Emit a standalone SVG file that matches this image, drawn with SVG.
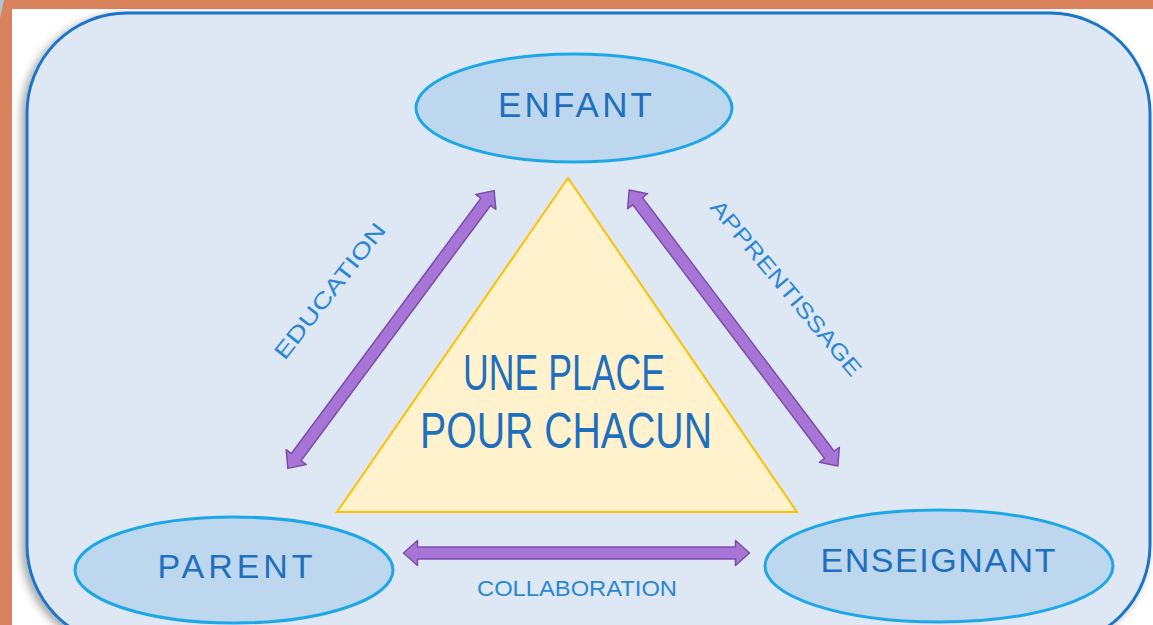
<svg xmlns="http://www.w3.org/2000/svg" width="1153" height="625" viewBox="0 0 1153 625">
  <style>
    .node-ellipse { fill: #bdd7ee; stroke: #1ea7e6; stroke-width: 3; }
    .node-text { font-family: "Liberation Sans", Arial, sans-serif; fill: #1f6fbf; text-anchor: middle; }
    .label { font-family: "Liberation Sans", Arial, sans-serif; fill: #2b86d4; text-anchor: middle; dominant-baseline: central; }
    .arrow { fill: #a775d6; stroke: #7d4cae; stroke-width: 1.5; stroke-linejoin: round; }
  </style>
  <defs>
    <filter id="shadow" x="-10%" y="-10%" width="120%" height="120%">
      <feDropShadow dx="-4" dy="3" stdDeviation="4" flood-color="#000" flood-opacity="0.35"/>
    </filter>
    <path id="dbl" d="M-173,0 L-159,-12.5 L-159,-6 L159,-6 L159,-12.5 L173,0 L159,12.5 L159,6 L-159,6 L-159,12.5 Z"/>
  </defs>

  <!-- frame -->
  <rect x="0" y="0" width="1153" height="625" fill="#d9825b"/>
  <rect x="12" y="9" width="1141" height="616" fill="#ffffff"/>
  <polygon points="0,0 4,0 0,18" fill="#a9c6d9"/>

  <!-- background panel -->
  <rect id="panel" x="27" y="13" width="1123" height="632" rx="100" ry="100" fill="#dde8f4" stroke="#1a75c8" stroke-width="3" filter="url(#shadow)"/>

  <!-- central triangle -->
  <g id="center">
    <polygon points="568,178 337,512 797,512" fill="#fff2cc" stroke="#ffc000" stroke-width="2"/>
    <text class="node-text" x="564" y="390" font-size="50" textLength="202" lengthAdjust="spacingAndGlyphs">UNE PLACE</text>
    <text class="node-text" x="566" y="448" font-size="50" textLength="292" lengthAdjust="spacingAndGlyphs">POUR CHACUN</text>
  </g>

  <g id="enfant">
    <ellipse class="node-ellipse" cx="574" cy="108" rx="158" ry="54"/>
    <text class="node-text" x="575" y="117" font-size="35" textLength="154" lengthAdjust="spacing">ENFANT</text>
  </g>

  <g id="parent">
    <ellipse class="node-ellipse" cx="234" cy="570" rx="159" ry="53"/>
    <text class="node-text" x="235" y="578" font-size="34" textLength="155" lengthAdjust="spacing">PARENT</text>
  </g>

  <g id="enseignant">
    <ellipse class="node-ellipse" cx="939" cy="566" rx="174" ry="56"/>
    <text class="node-text" x="938" y="572" font-size="34" textLength="235" lengthAdjust="spacing">ENSEIGNANT</text>
  </g>

  <g id="connectors">
    <use href="#dbl" class="arrow" transform="translate(391,329.5) rotate(-53.4)"/>
    <use href="#dbl" class="arrow" transform="translate(733.5,328) rotate(52.9)"/>
    <use href="#dbl" class="arrow" transform="translate(576.5,553)"/>
    <text class="label" font-size="22" textLength="166" lengthAdjust="spacingAndGlyphs" transform="translate(330,291) rotate(-52)">EDUCATION</text>
    <text class="label" font-size="22" textLength="222" lengthAdjust="spacingAndGlyphs" transform="translate(786,288) rotate(50)">APPRENTISSAGE</text>
    <text class="label" x="577" y="588" font-size="22" textLength="200" lengthAdjust="spacingAndGlyphs">COLLABORATION</text>
  </g>
</svg>
